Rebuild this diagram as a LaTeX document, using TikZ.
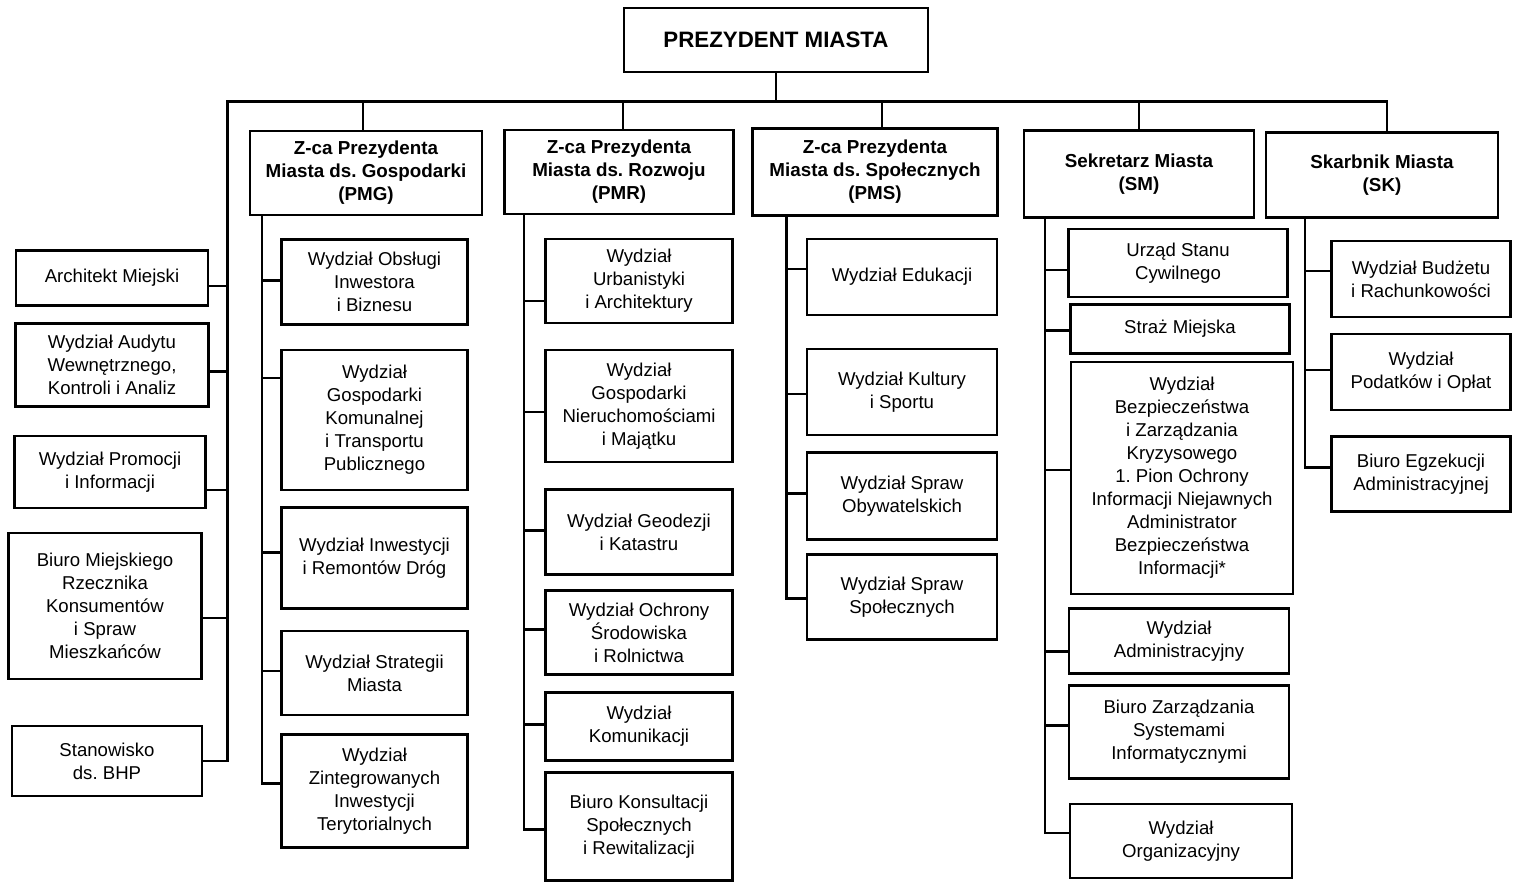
\documentclass[tikz,border=0pt]{standalone}
\usepackage{fontspec}
\setmainfont{Liberation Sans}
\frenchspacing
\newcommand\fnorm{\fontsize{18.6}{23}\selectfont}
\newcommand\fhead{\fontsize{18.8}{23}\selectfont\bfseries}
\newcommand\fpres{\fontsize{22.3}{26}\selectfont\bfseries}
\begin{document}
\begin{tikzpicture}[x=1pt,y=-1pt,
  box/.style={draw, line width=2.4pt, align=center, inner sep=0pt, font=\fnorm},
  head/.style={box, font=\fhead},
  conn/.style={line width=2.2pt, line cap=rect}]
\useasboundingbox (0,0) rectangle (1522,894);

% top level
\node[box, font=\fpres, minimum width=304pt, minimum height=64pt] (pres) at (776,40) {PREZYDENT MIASTA};

% deputies
\node[head, minimum width=232pt, minimum height=84pt] (pmg) at (366,173) {Z-ca Prezydenta\\Miasta ds. Gospodarki\\(PMG)};
\node[head, minimum width=229pt, minimum height=84pt] (pmr) at (619,172) {Z-ca Prezydenta\\Miasta ds. Rozwoju\\(PMR)};
\node[head, minimum width=245pt, minimum height=87pt] (pms) at (875,172) {Z-ca Prezydenta\\Miasta ds. Społecznych\\(PMS)};
\node[head, minimum width=230pt, minimum height=87pt] (sm) at (1139,174) {Sekretarz Miasta\\(SM)};
\node[head, minimum width=232pt, minimum height=85pt] (sk) at (1382,175) {Skarbnik Miasta\\(SK)};

% left staff
\node[box, minimum width=192pt, minimum height=55pt] (arch) at (112,278) {Architekt Miejski};
\node[box, minimum width=193pt, minimum height=83pt] (aud) at (112,365) {Wydział Audytu\\Wewnętrznego,\\Kontroli i Analiz};
\node[box, minimum width=191pt, minimum height=72pt] (prom) at (110,472) {Wydział Promocji\\i Informacji};
\node[box, minimum width=193pt, minimum height=146pt] (rzecz) at (105,606) {Biuro Miejskiego\\Rzecznika\\Konsumentów\\i Spraw\\Mieszkańców};
\node[box, minimum width=190pt, minimum height=70pt] (bhp) at (107,761) {Stanowisko\\ds. BHP};

% PMG column
\node[box, minimum width=186pt, minimum height=85pt] (g1) at (374.5,282) {Wydział Obsługi\\Inwestora\\i Biznesu};
\node[box, minimum width=186pt, minimum height=140pt] (g2) at (374.5,420) {Wydział\\Gospodarki\\Komunalnej\\i Transportu\\Publicznego};
\node[box, minimum width=186pt, minimum height=101pt] (g3) at (374.5,558) {Wydział Inwestycji\\i Remontów Dróg};
\node[box, minimum width=186pt, minimum height=84pt] (g4) at (374.5,673) {Wydział Strategii\\Miasta};
\node[box, minimum width=186pt, minimum height=113pt] (g5) at (374.5,791) {Wydział\\Zintegrowanych\\Inwestycji\\Terytorialnych};

% PMR column
\node[box, minimum width=187pt, minimum height=84pt] (r1) at (639,281) {Wydział\\Urbanistyki\\i Architektury};
\node[box, minimum width=187pt, minimum height=112pt] (r2) at (639,406) {Wydział\\Gospodarki\\Nieruchomościami\\i Majątku};
\node[box, minimum width=187pt, minimum height=85pt] (r3) at (639,532) {Wydział Geodezji\\i Katastru};
\node[box, minimum width=187pt, minimum height=84pt] (r4) at (639,632.5) {Wydział Ochrony\\Środowiska\\i Rolnictwa};
\node[box, minimum width=187pt, minimum height=68pt] (r5) at (639,726.5) {Wydział\\Komunikacji};
\node[box, minimum width=187pt, minimum height=108pt] (r6) at (639,826.5) {Biuro Konsultacji\\Społecznych\\i Rewitalizacji};

% PMS column
\node[box, minimum width=190pt, minimum height=76pt] (s1) at (902,277) {Wydział Edukacji};
\node[box, minimum width=190pt, minimum height=86pt] (s2) at (902,392) {Wydział Kultury\\i Sportu};
\node[box, minimum width=190pt, minimum height=87pt] (s3) at (902,496) {Wydział Spraw\\Obywatelskich};
\node[box, minimum width=190pt, minimum height=85pt] (s4) at (902,597) {Wydział Spraw\\Społecznych};

% SM column
\node[box, minimum width=219pt, minimum height=68pt] (m1) at (1178,263) {Urząd Stanu\\Cywilnego};
\node[box, minimum width=219pt, minimum height=49pt] (m2) at (1180,329) {Straż Miejska};
\node[box, minimum width=222pt, minimum height=232pt] (m3) at (1182,478) {Wydział\\Bezpieczeństwa\\i Zarządzania\\Kryzysowego\\1. Pion Ochrony\\Informacji Niejawnych\\Administrator\\Bezpieczeństwa\\Informacji*};
\node[box, minimum width=220pt, minimum height=65pt] (m4) at (1179,641) {Wydział\\Administracyjny};
\node[box, minimum width=220pt, minimum height=93pt] (m5) at (1179,732) {Biuro Zarządzania\\Systemami\\Informatycznymi};
\node[box, minimum width=222pt, minimum height=74pt] (m6) at (1181,841) {Wydział\\Organizacyjny};

% SK column
\node[box, minimum width=179pt, minimum height=76pt] (k1) at (1421,279) {Wydział Budżetu\\i Rachunkowości};
\node[box, minimum width=179pt, minimum height=76pt] (k2) at (1421,372) {Wydział\\Podatków i Opłat};
\node[box, minimum width=179pt, minimum height=75pt] (k3) at (1421,474) {Biuro Egzekucji\\Administracyjnej};

% bus coordinates
\coordinate (topL) at (227.5,101.5);
\coordinate (gbus) at (261.7,0);
\coordinate (rbus) at (523.6,0);
\coordinate (sbus) at (786.4,0);
\coordinate (mbus) at (1045,0);
\coordinate (kbus) at (1305,0);

% top bus and drops
\draw[conn] (pres.south) -- (pres.south |- topL);
\draw[conn] (bhp.east) -| (topL) -| ([xshift=5pt]sk.north);
\draw[conn] (topL) -| ([xshift=-3pt]pmg.north);
\draw[conn] (topL) -| ([xshift=4pt]pmr.north);
\draw[conn] (topL) -| ([xshift=7pt]pms.north);
\draw[conn] (topL) -| (sm.north);

% left staff connectors
\draw[conn] (topL) |- ([yshift=-8pt]arch.east);
\draw[conn] (topL) |- ([yshift=-6.5pt]aud.east);
\draw[conn] (topL) |- ([yshift=-18pt]prom.east);
\draw[conn] (topL) |- ([yshift=-12pt]rzecz.east);

% PMG connectors
\draw[conn] (pmg.south -| gbus) |- ([yshift=1.5pt]g1.west);
\draw[conn] (pmg.south -| gbus) |- ([yshift=42pt]g2.west);
\draw[conn] (pmg.south -| gbus) |- ([yshift=5.5pt]g3.west);
\draw[conn] (pmg.south -| gbus) |- ([yshift=2pt]g4.west);
\draw[conn] (pmg.south -| gbus) |- ([yshift=7.5pt]g5.west);

% PMR connectors
\draw[conn] (pmr.south -| rbus) |- ([yshift=-20pt]r1.west);
\draw[conn] (pmr.south -| rbus) |- ([yshift=-6pt]r2.west);
\draw[conn] (pmr.south -| rbus) |- ([yshift=1.5pt]r3.west);
\draw[conn] (pmr.south -| rbus) |- ([yshift=3pt]r4.west);
\draw[conn] (pmr.south -| rbus) |- ([yshift=2pt]r5.west);
\draw[conn] (pmr.south -| rbus) |- ([yshift=-3pt]r6.west);

% PMS connectors
\draw[conn] (pms.south -| sbus) |- ([yshift=8pt]s1.west);
\draw[conn] (pms.south -| sbus) |- ([yshift=-2pt]s2.west);
\draw[conn] (pms.south -| sbus) |- ([yshift=2.5pt]s3.west);
\draw[conn] (pms.south -| sbus) |- ([yshift=-1.5pt]s4.west);

% SM connectors
\draw[conn] (sm.south -| mbus) |- ([yshift=-7pt]m1.west);
\draw[conn] (sm.south -| mbus) |- ([yshift=-1.5pt]m2.west);
\draw[conn] (sm.south -| mbus) |- ([yshift=8pt]m3.west);
\draw[conn] (sm.south -| mbus) |- ([yshift=-10.5pt]m4.west);
\draw[conn] (sm.south -| mbus) |- ([yshift=6.5pt]m5.west);
\draw[conn] (sm.south -| mbus) |- ([yshift=8pt]m6.west);

% SK connectors
\draw[conn] (sk.south -| kbus) |- ([yshift=8pt]k1.west);
\draw[conn] (sk.south -| kbus) |- ([yshift=2pt]k2.west);
\draw[conn] (sk.south -| kbus) |- ([yshift=6.5pt]k3.west);
\end{tikzpicture}
\end{document}
